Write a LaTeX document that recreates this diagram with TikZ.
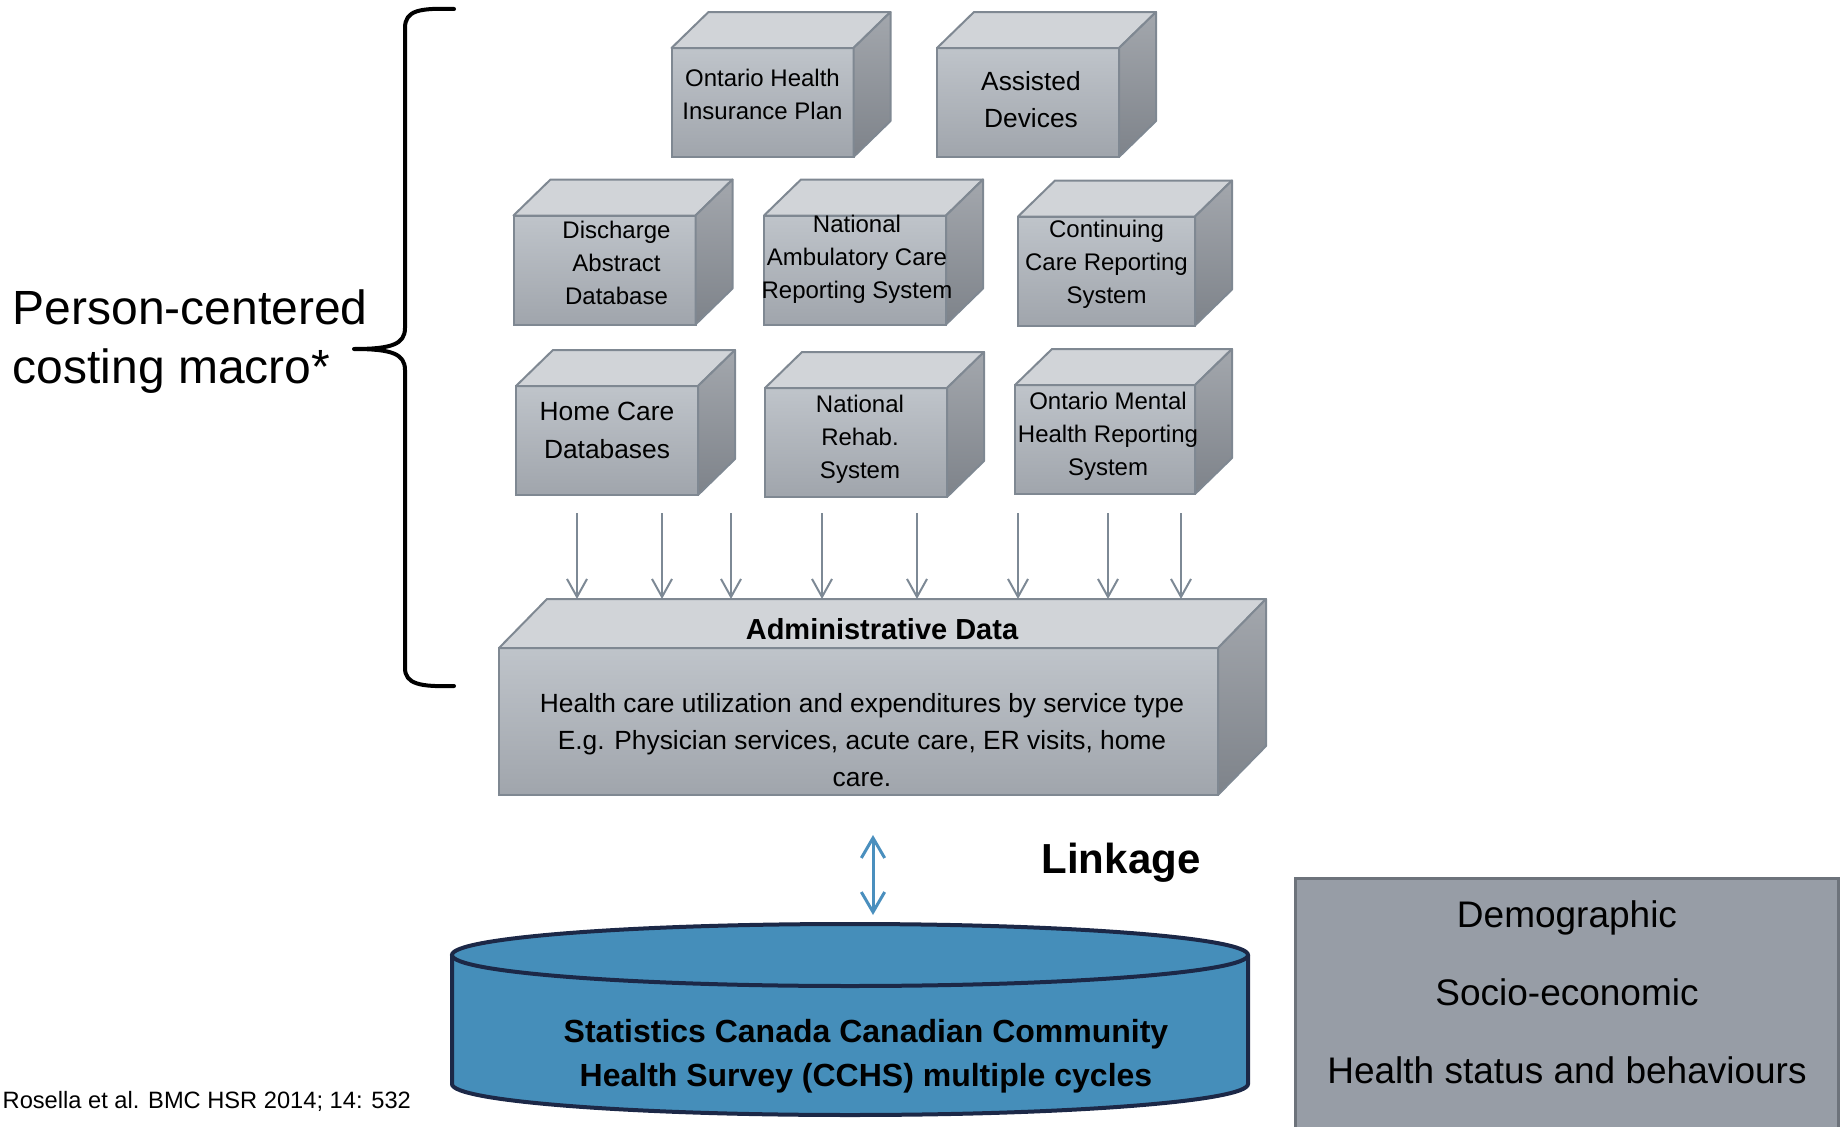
\documentclass[tikz,border=0pt]{standalone}
\usepackage{fontspec}
\setmainfont{Liberation Sans}
\usetikzlibrary{arrows.meta}

\definecolor{edgegray}{HTML}{7F8892}
\definecolor{frontlight}{HTML}{BFC4CA}
\definecolor{frontdark}{HTML}{A0A5AC}
\definecolor{toplight}{HTML}{D1D4D8}
\definecolor{sidelight}{HTML}{A3A7AD}
\definecolor{sidedark}{HTML}{7E838A}
\definecolor{arrowgray}{HTML}{7D8995}
\definecolor{linkblue}{HTML}{4A8FBE}
\definecolor{surveyblue}{HTML}{458EBA}
\definecolor{surveyedge}{HTML}{1C2847}
\definecolor{covfill}{HTML}{979DA6}
\definecolor{covedge}{HTML}{6D737B}

\tikzset{
	cube/.style={draw=edgegray, line width=0.6pt, top color=frontlight, bottom color=frontdark, minimum width=54.6pt, minimum height=32.7pt, inner sep=0pt, outer sep=0pt},
	cubetext/.style={align=center, inner sep=0pt, font=\fontsize{7.2}{9.9}\selectfont},
	cubetextbig/.style={cubetext, font=\fontsize{7.9}{11.2}\selectfont},
	topface/.style={draw=edgegray, line width=0.6pt, fill=toplight, line join=round},
	sideface/.style={draw=edgegray, line width=0.6pt, top color=sidelight, bottom color=sidedark, line join=round},
	feed/.style={draw=arrowgray, line width=0.6pt, -{Straight Barb[length=5.4pt,width=6pt]}},
	linkarrow/.style={draw=linkblue, line width=0.9pt, {Straight Barb[length=6pt,width=7pt]}-{Straight Barb[length=6pt,width=7pt]}},
}

\begin{document}
\begin{tikzpicture}[x=0.3pt, y=-0.3pt]
	\useasboundingbox (0,0) rectangle (1845,1127);
	%source databases
		\node[cube] (ohip) at (762.5,102.5) {};
		\node[cube] (adp) at (1028,102.5) {};
		\node[cube] (dad) at (604.5,270) {};
		\node[cube] (nacrs) at (855,270) {};
		\node[cube, minimum width=53.1pt] (ccrs) at (1106.5,271) {};
		\node[cube] (hcd) at (607,440.5) {};
		\node[cube] (nrs) at (856,442.5) {};
		\node[cube, minimum width=54pt] (omhrs) at (1105,439.5) {};
	%top and side faces
		\foreach \b in {ohip,adp,dad,nacrs,ccrs,hcd,nrs,omhrs} {
			\draw[topface] (\b.north west) -- ++(37,-36) -- ([shift={(37,-36)}]\b.north east) -- (\b.north east) -- cycle;
			\draw[sideface] (\b.north east) -- ++(37,-36) -- ([shift={(37,-36)}]\b.south east) -- (\b.south east) -- cycle;
		}
	%box labels
		\node[cubetext] (ohiptxt) at ([shift={(0,-8)}]ohip) {Ontario Health\\Insurance Plan};
		\node[cubetextbig] (adptxt) at ([shift={(3,-3)}]adp) {Assisted\\Devices};
		\node[cubetext] (dadtxt) at ([shift={(12,-7)}]dad) {Discharge\\Abstract\\Database};
		\node[cubetext] (nacrstxt) at ([shift={(2,-11)}]nacrs) {National\\Ambulatory Care\\Reporting System};
		\node[cubetext] (ccrstxt) at ([shift={(0,-7)}]ccrs) {Continuing\\Care Reporting\\System};
		\node[cubetextbig] (hcdtxt) at ([shift={(0,-10)}]hcd) {Home Care\\Databases};
		\node[cubetext] (nrstxt) at ([shift={(4,-3)}]nrs) {National\\Rehab.\\System};
		\node[cubetext] (omhrstxt) at ([shift={(3,-3)}]omhrs) {Ontario Mental\\Health Reporting\\System};
	%administrative data block
		\node[cube, minimum width=215.7pt, minimum height=44.1pt] (admin) at (858.5,721.5) {};
		\draw[topface] (admin.north west) -- ++(48,-49) -- ([shift={(48,-49)}]admin.north east) -- (admin.north east) -- cycle;
		\draw[sideface] (admin.north east) -- ++(48,-49) -- ([shift={(48,-49)}]admin.south east) -- (admin.south east) -- cycle;
		\coordinate (admback) at ([shift={(48,-49)}]admin.north west);
		\node[font=\fontsize{8.7}{10}\selectfont\bfseries] (admtitle) at (882,629) {Administrative Data};
		\node[align=center, font=\fontsize{7.9}{11.1}\selectfont] (admbody) at (862,740) {Health care utilization and expenditures by service type\\E.g. Physician services, acute care, ER visits, home\\care.};
	%arrows into administrative data
		\foreach \x [count=\i] in {577,662,731,822,917,1018,1108,1181} {
			\coordinate (src\i) at (\x,513);
			\draw[feed] (src\i) -- (src\i |- admback);
		}
	%brace + label
		\draw[line width=1.2pt, line cap=round, line join=round] (454,9) .. controls (420,8) and (405,10) .. (405,28) -- (405,328) .. controls (405,344) and (392,349) .. (354,349) .. controls (392,349) and (405,354) .. (405,370) -- (405,668) .. controls (405,684) and (420,687) .. (454,686);
		\node[anchor=west, align=left, inner sep=0pt, font=\fontsize{14.4}{17.7}\selectfont] (macro) at (12,342) {Person-centered\\costing macro*};
	%linkage
		\coordinate (lnktop) at (873,835);
		\coordinate (lnkbot) at (873,915);
		\draw[linkarrow] (lnktop) -- (lnkbot);
		\node[font=\fontsize{12.6}{14}\selectfont\bfseries] (linkage) at (1121,863) {Linkage};
	%survey cylinder
		\draw[fill=surveyblue, draw=surveyedge, line width=1.2pt] (452,955) -- (452,1084) arc[start angle=180, end angle=0, x radius=398, y radius=31] -- (1248,955);
		\draw[fill=surveyblue, draw=surveyedge, line width=1.2pt] (850,955) ellipse [x radius=398, y radius=31];
		\node[align=center, font=\fontsize{9.6}{13.2}\selectfont\bfseries] (cchs) at (866,1056) {Statistics Canada Canadian Community\\Health Survey (CCHS) multiple cycles};
	%survey content box
		\node[draw=covedge, fill=covfill, line width=0.9pt, minimum width=162.9pt, minimum height=81pt, anchor=north west] (covbox) at (1294,877) {};
		\node[align=center, font=\fontsize{11.1}{23.4}\selectfont] (covtext) at (1567,992) {Demographic\\Socio-economic\\Health status and behaviours};
	%reference
		\node[anchor=west, font=\fontsize{7.1}{9}\selectfont, inner sep=0pt] (cite) at (2,1101) {Rosella et al. BMC HSR 2014; 14: 532};
\end{tikzpicture}
\end{document}
